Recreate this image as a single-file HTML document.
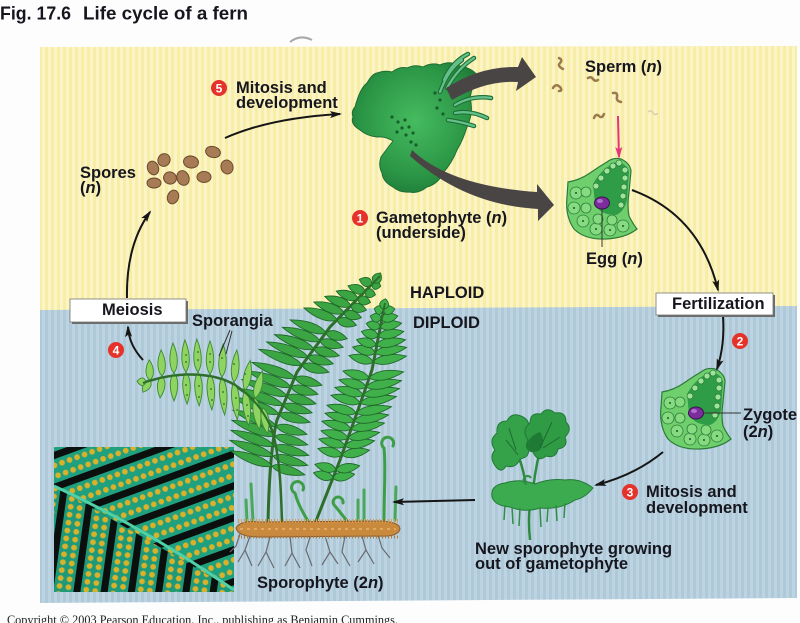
<!DOCTYPE html>
<html><head><meta charset="utf-8"><title>Life cycle of a fern</title><style>
html,body{margin:0;padding:0;background:#fff;}
svg{display:block;}
text{font-family:"Liberation Sans",Arial,sans-serif;font-weight:bold;fill:#16161e;}
</style></head><body>
<svg width="800" height="623" viewBox="0 0 800 623" xmlns="http://www.w3.org/2000/svg">
<defs>
<pattern id="ys" width="6" height="10" patternUnits="userSpaceOnUse"><rect width="6" height="10" fill="#f7eda6"/><rect width="3" height="10" fill="#fbf4c6"/></pattern>
<pattern id="bs" width="6" height="10" patternUnits="userSpaceOnUse"><rect width="6" height="10" fill="#afc9d9"/><rect width="3" height="10" fill="#bcd3e1"/></pattern>
<pattern id="lu" width="30" height="8" patternUnits="userSpaceOnUse" patternTransform="rotate(70)"><rect width="30" height="8" fill="#0b0f0d"/><rect width="23" height="8" fill="#1fa07e"/><circle cx="6" cy="4" r="2.9" fill="#d9b12a"/><circle cx="16.5" cy="4" r="2.9" fill="#d9b12a"/></pattern>
<pattern id="ll" width="27" height="8" patternUnits="userSpaceOnUse" patternTransform="rotate(8)"><rect width="27" height="8" fill="#0b0f0d"/><rect width="20" height="8" fill="#1e9a7a"/><circle cx="5.5" cy="4" r="2.9" fill="#d9b12a"/><circle cx="14.5" cy="4" r="2.9" fill="#d9b12a"/></pattern>
<clipPath id="phc"><rect x="54" y="447" width="180" height="145"/></clipPath>
<clipPath id="phU"><polygon points="54,447 234,447 234,590 54,486"/></clipPath>
<clipPath id="phL"><polygon points="54,486 234,590 234,592 54,592"/></clipPath>
<radialGradient id="gg" cx="50%" cy="45%" r="60%"><stop offset="0" stop-color="#46bb5f"/><stop offset="0.7" stop-color="#2b9646"/><stop offset="1" stop-color="#1f7a37"/></radialGradient>
<marker id="ah" viewBox="0 0 12 8" markerWidth="12" markerHeight="8" refX="10" refY="4" orient="auto" markerUnits="userSpaceOnUse"><path d="M0,0.5 L12,4 L0,7.5 L2.5,4Z" fill="#151515"/></marker>
<marker id="ahp" viewBox="0 0 12 8" markerWidth="12" markerHeight="8" refX="10" refY="4" orient="auto" markerUnits="userSpaceOnUse"><path d="M0,0.5 L12,4 L0,7.5 L2.5,4Z" fill="#e8337a"/></marker>
<path id="pn" d="M0,0 C6,-6 18,-6 30,0 C18,6 6,6 0,0Z" vector-effect="non-scaling-stroke"/>
<path id="pa" d="M0,0 C6,-5 18,-5 30,0 C18,5 6,5 0,0Z" vector-effect="non-scaling-stroke"/>
<g id="arch">
<path d="M568,182 Q580,180 590,173 Q600,166 607,162 Q613,157 621,159 Q630,163 631,171 L629,192 Q627,206 629,216 Q633,224 637,229 Q626,238 606,239 Q585,240 574,229 Q565,216 567,197Z" fill="#6fcf6c" stroke="#2c7a3a" stroke-width="1.2"/>
<g fill="#86db80" stroke="#2e7d3a" stroke-width="0.8">
<circle cx="576" cy="193" r="6"/><circle cx="574" cy="208" r="6"/><circle cx="583" cy="221" r="6"/><circle cx="596" cy="229" r="6"/><circle cx="610" cy="230" r="6"/><circle cx="623" cy="226" r="6"/><circle cx="586" cy="192" r="5"/><circle cx="586" cy="208" r="5"/><circle cx="598" cy="219" r="5"/><circle cx="612" cy="220" r="5"/>
</g>
<path d="M593,184 Q602,168 616,162 Q627,163 629,172 L627,200 Q624,212 616,215 Q600,215 595,204Z" fill="#2f9c47"/>
<g fill="#9fe39a" stroke="#2a7a3a" stroke-width="0.7">
<circle cx="596" cy="186" r="3"/><circle cx="601" cy="178" r="3"/><circle cx="607" cy="171" r="3"/><circle cx="613" cy="166" r="3"/><circle cx="619" cy="163" r="3"/><circle cx="625" cy="170" r="3"/><circle cx="625" cy="178" r="3"/><circle cx="624" cy="187" r="3"/><circle cx="623" cy="196" r="3"/><circle cx="621" cy="205" r="3"/>
</g>
<g fill="#1e5a2a"><circle cx="576" cy="193" r="1"/><circle cx="574" cy="208" r="1"/><circle cx="583" cy="221" r="1"/><circle cx="596" cy="229" r="1"/><circle cx="610" cy="230" r="1"/><circle cx="623" cy="226" r="1"/></g>
<ellipse cx="602" cy="203" rx="7.5" ry="6" fill="#7b2d9b" stroke="#3b1050" stroke-width="1"/>
<ellipse cx="600" cy="201" rx="3" ry="2" fill="#b070d0"/>
</g>
</defs>

<rect width="800" height="623" fill="#fdfdfd"/>
<path d="M290,42 Q300,34 312,40" stroke="#a8a8a8" stroke-width="2" fill="none"/>
<polygon points="40,47 797,46 797,307 40,311" fill="url(#ys)"/>
<polygon points="40,310 797,306 797,598 40,603" fill="url(#bs)"/>

<!-- Title -->
<text x="0" y="19.5" font-size="18.5" textLength="71" lengthAdjust="spacingAndGlyphs">Fig. 17.6</text>
<text x="83" y="19.5" font-size="18.5" textLength="165" lengthAdjust="spacingAndGlyphs">Life cycle of a fern</text>

<!-- Spores -->
<g fill="#a67b55" stroke="#6d4a2d" stroke-width="1">
<ellipse cx="153" cy="168" rx="5.5" ry="7" transform="rotate(-20 153 168)"/>
<ellipse cx="164" cy="160" rx="6" ry="6.5" transform="rotate(30 164 160)"/>
<ellipse cx="191" cy="162" rx="7.5" ry="6" transform="rotate(10 191 162)"/>
<ellipse cx="213" cy="152" rx="7.5" ry="5.5" transform="rotate(15 213 152)"/>
<ellipse cx="227" cy="167" rx="6" ry="7" transform="rotate(-15 227 167)"/>
<ellipse cx="154" cy="183" rx="7" ry="5"/>
<ellipse cx="170" cy="178" rx="6.5" ry="6" transform="rotate(20 170 178)"/>
<ellipse cx="183" cy="178" rx="6" ry="7.5" transform="rotate(-20 183 178)"/>
<ellipse cx="204" cy="177" rx="7" ry="5.5"/>
<ellipse cx="173" cy="197" rx="5.5" ry="7" transform="rotate(20 173 197)"/>
</g>

<!-- Sperm -->
<g stroke="#9b7a4d" stroke-width="2.5" fill="none" stroke-linecap="round">
<path d="M559,58 q4,2 1,5 q-3,3 3,6"/>
<path d="M553,88 q3,-5 7,-1 q3,4 -1,4"/>
<path d="M588,78 q3,-2 5,1 q2,3 5,1"/>
<path d="M613,93 q5,-1 4,4 q-1,4 4,5"/>
<path d="M594,118 q2,-5 5,-2 q3,3 5,-2"/>
</g>
<path d="M648,112 q3,-3 5,1 q2,3 5,0" stroke="#d8d0b0" stroke-width="1.5" fill="none"/>

<!-- Gametophyte -->
<path d="M355,107 Q360,88 367,83 Q372,74 377,73 Q385,70 392,72 Q400,66 407,68 Q415,64 423,67 Q432,62 440,65 Q450,60 460,66 Q472,68 478,76 Q472,86 470,98 Q474,112 467,127 Q463,140 457,150 Q452,163 443,173 Q438,184 427,187 Q418,194 410,192 Q400,193 393,187 Q383,182 382,173 Q378,165 381,157 Q386,150 393,141 Q385,136 377,137 Q367,136 360,130 Q350,124 353,117 Q351,111 355,107Z" fill="url(#gg)" stroke="#1d6e33" stroke-width="1"/>
<g stroke="#1d6e33" stroke-width="4.5" fill="none" stroke-linecap="round">
<path d="M440,92 Q448,70 462,60"/><path d="M447,88 Q458,68 474,58"/><path d="M452,96 Q470,80 490,77"/><path d="M455,105 Q472,95 491,98"/><path d="M455,113 Q470,110 487,118"/><path d="M448,120 Q462,122 474,126"/><path d="M444,80 Q452,62 468,54"/>
</g>
<g stroke="#63c08b" stroke-width="2.3" fill="none" stroke-linecap="round">
<path d="M440,92 Q448,70 462,60"/><path d="M447,88 Q458,68 474,58"/><path d="M452,96 Q470,80 490,77"/><path d="M455,105 Q472,95 491,98"/><path d="M455,113 Q470,110 487,118"/><path d="M448,120 Q462,122 474,126"/><path d="M444,80 Q452,62 468,54"/>
</g>
<g fill="#16602c">
<circle cx="392" cy="117" r="1.6"/><circle cx="398" cy="122" r="1.6"/><circle cx="405" cy="120" r="1.6"/><circle cx="402" cy="128" r="1.6"/><circle cx="409" cy="127" r="1.6"/><circle cx="406" cy="135" r="1.6"/><circle cx="413" cy="133" r="1.6"/><circle cx="411" cy="142" r="1.6"/><circle cx="416" cy="145" r="1.6"/><circle cx="397" cy="132" r="1.6"/><circle cx="435" cy="93" r="1.6"/><circle cx="440" cy="100" r="1.6"/><circle cx="437" cy="108" r="1.6"/><circle cx="443" cy="114" r="1.6"/>
</g>

<!-- dark arrows -->
<path d="M446,88 Q480,66 518,67 L522,57 L536,77 L516,91 L518,82 Q486,80 452,100Z" fill="#4a4545"/>
<path d="M412,150 Q450,186 537,192 L537,184 L554,205 L538,221 L538,209 Q465,205 410,156Z" fill="#4a4545"/>

<!-- Egg -->
<use href="#arch"/>
<line x1="602" y1="209" x2="602" y2="247" stroke="#333" stroke-width="1"/>
<!-- Zygote -->
<use href="#arch" transform="translate(94,210)"/>
<line x1="704" y1="413" x2="741" y2="413" stroke="#333" stroke-width="1"/>

<!-- Photo inset -->
<g clip-path="url(#phc)">
<rect x="54" y="447" width="180" height="145" fill="#0b0f0d"/>
<rect x="54" y="447" width="180" height="145" fill="url(#lu)" clip-path="url(#phU)"/>
<rect x="54" y="447" width="180" height="145" fill="url(#ll)" clip-path="url(#phL)"/>
<path d="M54,486 Q145,528 234,590" stroke="#4fd0a8" stroke-width="3" fill="none"/>
</g>

<!-- Rhizome & roots -->
<g stroke="#6a6a70" stroke-width="1.2" fill="none">
<path d="M250,536 L245,550 L238,562 M245,550 L252,566 M270,537 L266,552 L258,566 M266,552 L274,568 M290,537 L292,553 L285,566 M292,553 L300,568 M310,537 L306,550 L312,566 M325,536 L330,552 L322,565 M330,552 L338,564 M345,536 L342,552 L350,566 M362,536 L366,550 L358,562 M366,550 L374,564 M378,535 L382,548 L390,558 M240,534 L236,546 L230,552"/>
</g>

<!-- Fern stems -->
<g fill="none" stroke-linecap="round">
<path d="M253,521 L251,484" stroke="#4aa85a" stroke-width="3"/>
<path d="M247,521 L246,500" stroke="#4aa85a" stroke-width="3"/>
<path d="M358,521 L358,500" stroke="#4aa85a" stroke-width="3"/>
<path d="M364,521 L364,490" stroke="#4aa85a" stroke-width="3"/>
<path d="M395,520 L396,487" stroke="#4aa85a" stroke-width="3"/>
<path d="M308,521 Q298,505 295,493 A6,6 0 1 1 303,490" stroke="#3e9e48" stroke-width="3"/>
<path d="M347,521 Q340,512 335,506 A5,5 0 1 1 343,503" stroke="#3e9e48" stroke-width="3"/>
<path d="M384,521 C384,490 386,465 384,448 A6,6 0 1 1 393,446" stroke="#3e9e48" stroke-width="3"/>
<path d="M268,522 C269,480 272,440 277,420 L297,372 L330,327 L380,276" stroke="#2d6e2a" stroke-width="3"/>
<path d="M316,521 L340,460 L358,410 L372,370 L385,303" stroke="#2d6e2a" stroke-width="3"/>
</g>

<!-- Frond B -->
<g fill="#3aa542" stroke="#1f6a2a" stroke-width="0.9">
<use href="#pn" transform="translate(272,466) rotate(15) scale(1.13,1)"/>
<use href="#pn" transform="translate(273,456) rotate(15) scale(1.2,1)"/>
<use href="#pn" transform="translate(274,446) rotate(15) scale(1.2,1)"/>
<use href="#pn" transform="translate(275,436) rotate(15) scale(1.13,1)"/>
<use href="#pn" transform="translate(276,426) rotate(15) scale(1.07,1)"/>
<use href="#pn" transform="translate(279,414) rotate(15) scale(1.07,1)"/>
<use href="#pn" transform="translate(283,405) rotate(15) scale(1,1)"/>
<use href="#pn" transform="translate(287,396) rotate(15) scale(1,1)"/>
<use href="#pn" transform="translate(291,387) rotate(15) scale(0.93,1)"/>
<use href="#pn" transform="translate(295,378) rotate(15) scale(0.93,1)"/>
<use href="#pn" transform="translate(302,365) rotate(15) scale(0.93,1)"/>
<use href="#pn" transform="translate(308,357) rotate(15) scale(0.87,1)"/>
<use href="#pn" transform="translate(314,349) rotate(15) scale(0.87,1)"/>
<use href="#pn" transform="translate(320,341) rotate(15) scale(0.8,1)"/>
<use href="#pn" transform="translate(326,333) rotate(15) scale(0.73,1)"/>
<use href="#pn" transform="translate(337,320) rotate(15) scale(0.67,1)"/>
<use href="#pn" transform="translate(344,313) rotate(15) scale(0.6,1)"/>
<use href="#pn" transform="translate(351,306) rotate(15) scale(0.53,1)"/>
<use href="#pn" transform="translate(358,299) rotate(15) scale(0.43,1)"/>
<use href="#pn" transform="translate(365,292) rotate(15) scale(0.36,1)"/>
<use href="#pn" transform="translate(372,284) rotate(15) scale(0.3,1)"/>
<use href="#pn" transform="translate(272,466) rotate(200) scale(1.47,1)"/>
<use href="#pn" transform="translate(273,456) rotate(200) scale(1.53,1)"/>
<use href="#pn" transform="translate(274,446) rotate(200) scale(1.53,1)"/>
<use href="#pn" transform="translate(275,436) rotate(200) scale(1.53,1)"/>
<use href="#pn" transform="translate(276,426) rotate(200) scale(1.53,1)"/>
<use href="#pn" transform="translate(279,414) rotate(200) scale(1.6,1)"/>
<use href="#pn" transform="translate(283,405) rotate(200) scale(1.6,1)"/>
<use href="#pn" transform="translate(287,396) rotate(200) scale(1.6,1)"/>
<use href="#pn" transform="translate(291,387) rotate(200) scale(1.53,1)"/>
<use href="#pn" transform="translate(295,378) rotate(200) scale(1.53,1)"/>
<use href="#pn" transform="translate(302,365) rotate(200) scale(1.53,1)"/>
<use href="#pn" transform="translate(308,357) rotate(200) scale(1.47,1)"/>
<use href="#pn" transform="translate(314,349) rotate(200) scale(1.4,1)"/>
<use href="#pn" transform="translate(320,341) rotate(200) scale(1.33,1)"/>
<use href="#pn" transform="translate(326,333) rotate(200) scale(1.27,1)"/>
<use href="#pn" transform="translate(337,320) rotate(200) scale(1.17,1)"/>
<use href="#pn" transform="translate(344,313) rotate(200) scale(1.07,1)"/>
<use href="#pn" transform="translate(351,306) rotate(200) scale(0.93,1)"/>
<use href="#pn" transform="translate(358,299) rotate(200) scale(0.77,1)"/>
<use href="#pn" transform="translate(365,292) rotate(200) scale(0.6,1)"/>
<use href="#pn" transform="translate(372,284) rotate(200) scale(0.45,1)"/>
<use href="#pn" transform="translate(374,283) rotate(-57) scale(0.4,1)"/>
</g>
<path d="M277,420 L297,372 L330,327 L380,276" stroke="#2d6e2a" stroke-width="2" fill="none"/>

<!-- Frond C -->
<g fill="#40b04a" stroke="#1f6a2a" stroke-width="0.9">
<use href="#pn" transform="translate(333,478) rotate(195) scale(0.67,1)"/>
<use href="#pn" transform="translate(336,470) rotate(195) scale(0.73,1)"/>
<use href="#pn" transform="translate(342,455) rotate(195) scale(0.83,1)"/>
<use href="#pn" transform="translate(345,446) rotate(195) scale(0.9,1)"/>
<use href="#pn" transform="translate(348,438) rotate(195) scale(0.93,1)"/>
<use href="#pn" transform="translate(351,429) rotate(195) scale(1,1)"/>
<use href="#pn" transform="translate(354,421) rotate(195) scale(1,1)"/>
<use href="#pn" transform="translate(356,413) rotate(195) scale(1,1)"/>
<use href="#pn" transform="translate(360,403) rotate(195) scale(1,1)"/>
<use href="#pn" transform="translate(363,395) rotate(195) scale(0.97,1)"/>
<use href="#pn" transform="translate(366,387) rotate(195) scale(0.93,1)"/>
<use href="#pn" transform="translate(369,378) rotate(195) scale(0.9,1)"/>
<use href="#pn" transform="translate(373,362) rotate(195) scale(0.83,1)"/>
<use href="#pn" transform="translate(375,353) rotate(195) scale(0.77,1)"/>
<use href="#pn" transform="translate(376,345) rotate(195) scale(0.67,1)"/>
<use href="#pn" transform="translate(378,336) rotate(195) scale(0.57,1)"/>
<use href="#pn" transform="translate(380,327) rotate(195) scale(0.47,1)"/>
<use href="#pn" transform="translate(381,319) rotate(195) scale(0.37,1)"/>
<use href="#pn" transform="translate(383,311) rotate(195) scale(0.3,1)"/>
<use href="#pn" transform="translate(333,478) rotate(-10) scale(0.73,1)"/>
<use href="#pn" transform="translate(336,470) rotate(-10) scale(0.8,1)"/>
<use href="#pn" transform="translate(342,455) rotate(-10) scale(0.93,1)"/>
<use href="#pn" transform="translate(345,446) rotate(-10) scale(1,1)"/>
<use href="#pn" transform="translate(348,438) rotate(-10) scale(1.07,1)"/>
<use href="#pn" transform="translate(351,429) rotate(-10) scale(1.13,1)"/>
<use href="#pn" transform="translate(354,421) rotate(-10) scale(1.17,1)"/>
<use href="#pn" transform="translate(356,413) rotate(-10) scale(1.2,1)"/>
<use href="#pn" transform="translate(360,403) rotate(-10) scale(1.23,1)"/>
<use href="#pn" transform="translate(363,395) rotate(-10) scale(1.23,1)"/>
<use href="#pn" transform="translate(366,387) rotate(-10) scale(1.2,1)"/>
<use href="#pn" transform="translate(369,378) rotate(-10) scale(1.17,1)"/>
<use href="#pn" transform="translate(373,362) rotate(-10) scale(1.13,1)"/>
<use href="#pn" transform="translate(375,353) rotate(-10) scale(1.07,1)"/>
<use href="#pn" transform="translate(376,345) rotate(-10) scale(1,1)"/>
<use href="#pn" transform="translate(378,336) rotate(-10) scale(0.87,1)"/>
<use href="#pn" transform="translate(380,327) rotate(-10) scale(0.73,1)"/>
<use href="#pn" transform="translate(381,319) rotate(-10) scale(0.57,1)"/>
<use href="#pn" transform="translate(383,311) rotate(-10) scale(0.4,1)"/>
<use href="#pn" transform="translate(383,309) rotate(-75) scale(0.35,1)"/>
</g>
<path d="M340,460 L358,410 L372,370 L385,303" stroke="#2d6e2a" stroke-width="2" fill="none"/>

<!-- Frond A (arching, light) -->
<path d="M282,522 C281,490 280,460 273,433 C265,410 250,395 235,385 C215,373 180,370 143,383" stroke="#2d6e2a" stroke-width="2.5" fill="none"/>
<g fill="#8fd461" stroke="#3a8a35" stroke-width="0.9">
<use href="#pa" transform="translate(150,380) rotate(-92) scale(0.67,1)"/>
<use href="#pa" transform="translate(162,376) rotate(-92) scale(0.87,1)"/>
<use href="#pa" transform="translate(174,373) rotate(-92) scale(1,1)"/>
<use href="#pa" transform="translate(186,372) rotate(-92) scale(1.07,1)"/>
<use href="#pa" transform="translate(198,372) rotate(-92) scale(1.1,1)"/>
<use href="#pa" transform="translate(210,374) rotate(-90) scale(1.1,1)"/>
<use href="#pa" transform="translate(222,377) rotate(-88) scale(1.1,1)"/>
<use href="#pa" transform="translate(234,382) rotate(-85) scale(1.07,1)"/>
<use href="#pa" transform="translate(245,390) rotate(-80) scale(1,1)"/>
<use href="#pa" transform="translate(255,398) rotate(-75) scale(0.93,1)"/>
<use href="#pa" transform="translate(150,380) rotate(120) scale(0.47,1)"/>
<use href="#pa" transform="translate(162,376) rotate(95) scale(0.73,1)"/>
<use href="#pa" transform="translate(174,373) rotate(90) scale(0.93,1)"/>
<use href="#pa" transform="translate(186,372) rotate(88) scale(1.07,1)"/>
<use href="#pa" transform="translate(198,372) rotate(88) scale(1.13,1)"/>
<use href="#pa" transform="translate(210,374) rotate(87) scale(1.2,1)"/>
<use href="#pa" transform="translate(222,377) rotate(86) scale(1.27,1)"/>
<use href="#pa" transform="translate(234,382) rotate(85) scale(1.27,1)"/>
<use href="#pa" transform="translate(245,390) rotate(84) scale(1.2,1)"/>
<use href="#pa" transform="translate(255,398) rotate(82) scale(1.07,1)"/>
<use href="#pa" transform="translate(263,408) rotate(80) scale(0.87,1)"/>
<use href="#pa" transform="translate(146,382) rotate(185) scale(0.3,1)"/>
</g>
<g fill="#2e6a28">
<circle cx="186" cy="355" r="0.9"/><circle cx="186" cy="362" r="0.9"/><circle cx="198" cy="352" r="0.9"/><circle cx="198" cy="360" r="0.9"/><circle cx="210" cy="354" r="0.9"/><circle cx="210" cy="362" r="0.9"/><circle cx="222" cy="358" r="0.9"/><circle cx="234" cy="364" r="0.9"/><circle cx="245" cy="374" r="0.9"/>
<circle cx="186" cy="385" r="0.9"/><circle cx="187" cy="395" r="0.9"/><circle cx="199" cy="386" r="0.9"/><circle cx="199" cy="397" r="0.9"/><circle cx="211" cy="389" r="0.9"/><circle cx="212" cy="400" r="0.9"/><circle cx="223" cy="392" r="0.9"/><circle cx="224" cy="404" r="0.9"/><circle cx="236" cy="398" r="0.9"/><circle cx="237" cy="410" r="0.9"/><circle cx="247" cy="405" r="0.9"/><circle cx="248" cy="416" r="0.9"/>
</g>
<path d="M273,433 C265,410 250,395 235,385 C215,373 180,370 143,383" stroke="#2d6e2a" stroke-width="2" fill="none"/>

<!-- Rhizome -->
<path d="M236,528 Q240,520 260,522 L380,521 Q400,522 400,529 Q398,537 380,536 L260,537 Q238,537 236,528Z" fill="#c98a3e" stroke="#8b5a2b" stroke-width="1"/>
<line x1="238" y1="521" x2="398" y2="521" stroke="#d89a4c" stroke-width="4" stroke-dasharray="1 2"/>
<line x1="238" y1="537" x2="398" y2="537" stroke="#b07a3a" stroke-width="3" stroke-dasharray="1 2"/>
<line x1="240" y1="529" x2="396" y2="529" stroke="#e0a860" stroke-width="2" stroke-dasharray="3 4"/>

<!-- New sporophyte on gametophyte -->
<g fill="none" stroke="#2e8a40" stroke-width="2.5">
<path d="M518,455 Q526,475 527,500"/><path d="M540,450 Q534,475 532,500"/><path d="M530,505 Q528,520 530,540"/>
</g>
<path d="M497,468 Q488,458 495,450 Q488,440 497,433 Q496,421 507,421 Q512,411 523,417 Q532,422 527,432 Q535,439 528,447 Q531,457 520,459 Q516,469 506,466 Q502,473 497,468Z" fill="#35a24a" stroke="#1f7a35" stroke-width="1"/>
<path d="M528,440 Q521,430 530,423 Q530,412 541,414 Q547,406 555,413 Q566,411 566,422 Q573,429 565,437 Q569,447 558,449 Q556,459 546,456 Q538,463 533,452 Q523,450 528,440Z" fill="#2f9c45" stroke="#1f7a35" stroke-width="1"/>
<path d="M526,446 Q530,435 540,432 Q546,440 540,450 Q532,455 526,446Z" fill="#1f7a35"/>
<g stroke="#1c6b30" stroke-width="1" fill="none"><path d="M506,440 L518,455 M509,428 L516,450 M552,422 L540,448 M560,437 L543,448"/></g>
<path d="M492,497 Q490,485 505,483 Q520,478 535,484 Q550,478 565,480 Q580,478 593,488 Q585,498 575,500 Q560,510 540,508 Q525,513 510,507 Q495,506 492,497Z" fill="#3caa4e" stroke="#237a38" stroke-width="1"/>
<g stroke="#2f8f45" stroke-width="1.5" fill="none"><path d="M505,505 L504,520 M512,507 L513,524 M520,508 L519,526 M540,508 L541,527 M548,507 L547,522 M556,505 L557,521 M565,503 L564,518"/></g>
<path d="M527,484 A4,4 0 1 1 531,478" stroke="#2f8f45" stroke-width="2" fill="none"/>

<!-- Sporangia pointers -->
<path d="M230,330 L219,356 M232,331 L226,354" stroke="#333" stroke-width="1" fill="none"/>

<!-- thin arrows -->
<g stroke="#151515" stroke-width="2" fill="none" marker-end="url(#ah)">
<path d="M225,138 Q270,118 340,114"/>
<path d="M632,190 Q700,215 718,290"/>
<path d="M723,316 Q725,345 717,369"/>
<path d="M663,452 Q635,475 596,485"/>
<path d="M475,500 L394,502"/>
<path d="M143,360 Q129,345 128,327"/>
<path d="M127,298 Q126,245 150,212"/>
</g>
<path d="M618,116 L619,157" stroke="#e8337a" stroke-width="2" fill="none" marker-end="url(#ahp)"/>

<!-- Boxes -->
<rect x="72" y="301" width="116" height="23" fill="#6b6b6b"/>
<rect x="70" y="299" width="116" height="23" fill="#fff" stroke="#777" stroke-width="0.8"/>
<text x="102" y="315" font-size="16.5">Meiosis</text>
<rect x="658" y="295" width="117" height="22" fill="#6b6b6b"/>
<rect x="656" y="293" width="117" height="22" fill="#fff" stroke="#777" stroke-width="0.8"/>
<text x="672" y="309" font-size="16.5">Fertilization</text>

<!-- Red step circles -->
<g fill="#e5322b">
<circle cx="219" cy="88" r="8"/><circle cx="360" cy="218" r="8"/><circle cx="740" cy="341" r="8"/><circle cx="116" cy="350" r="8"/><circle cx="630" cy="492" r="8"/>
</g>
<g font-size="12" text-anchor="middle">
<text x="219" y="92.5" style="fill:#fff">5</text>
<text x="360" y="222.5" style="fill:#fff">1</text>
<text x="740" y="345.5" style="fill:#fff">2</text>
<text x="116" y="354.5" style="fill:#fff">4</text>
<text x="630" y="496.5" style="fill:#fff">3</text>
</g>

<!-- Labels -->
<g font-size="16.5">
<text x="236" y="93">Mitosis and</text>
<text x="236" y="108">development</text>
<text x="80" y="178">Spores</text>
<text x="80" y="193">(<tspan font-style="italic">n</tspan>)</text>
<text x="585" y="72">Sperm (<tspan font-style="italic">n</tspan>)</text>
<text x="376" y="223">Gametophyte (<tspan font-style="italic">n</tspan>)</text>
<text x="376" y="238">(underside)</text>
<text x="586" y="264">Egg (<tspan font-style="italic">n</tspan>)</text>
<text x="410" y="298">HAPLOID</text>
<text x="413" y="328">DIPLOID</text>
<text x="192" y="326">Sporangia</text>
<text x="743" y="420">Zygote</text>
<text x="743" y="437">(2<tspan font-style="italic">n</tspan>)</text>
<text x="646" y="497">Mitosis and</text>
<text x="646" y="513">development</text>
<text x="475" y="554">New sporophyte growing</text>
<text x="475" y="569">out of gametophyte</text>
<text x="257" y="588">Sporophyte (2<tspan font-style="italic">n</tspan>)</text>
</g>

<text x="7" y="624" font-size="12.5" textLength="391" lengthAdjust="spacingAndGlyphs" style="font-family:'Liberation Serif','Times New Roman',serif;font-weight:normal;fill:#222">Copyright © 2003 Pearson Education, Inc., publishing as Benjamin Cummings.</text>
</svg>
</body></html>
